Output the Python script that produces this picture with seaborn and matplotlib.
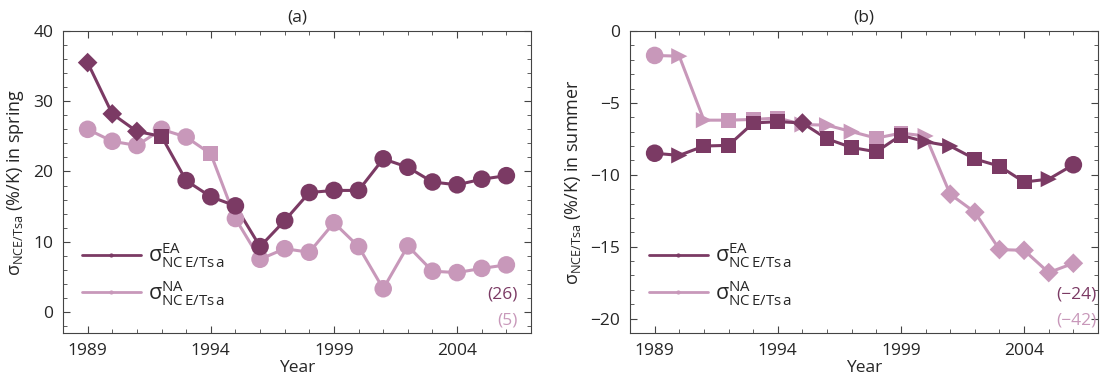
import numpy as np
import pandas as pd
import matplotlib
matplotlib.use("Agg")
import matplotlib.pyplot as plt
import seaborn as sns
from matplotlib.lines import Line2D
from matplotlib.ticker import MultipleLocator, FixedLocator

# values
years = list(range(1989, 2007))

spring_ea = [35.5, 28.2, 25.7, 25.0, 18.7, 16.4, 15.1, 9.3, 13.0, 17.0,
             17.3, 17.3, 21.8, 20.6, 18.5, 18.1, 18.9, 19.4]
spring_na = [26.0, 24.3, 23.7, 26.0, 24.9, 22.5, 13.3, 7.5, 9.0, 8.5,
             12.7, 9.3, 3.3, 9.4, 5.8, 5.6, 6.2, 6.7]
summer_ea = [-8.5, -8.65, -8.0, -7.95, -6.4, -6.3, -6.4, -7.5, -8.1, -8.4,
             -7.25, -7.7, -8.0, -8.9, -9.4, -10.5, -10.3, -9.3]
summer_na = [-1.7, -1.75, -6.2, -6.2, -6.15, -6.05, -6.5, -6.55, -7.0, -7.45,
             -7.1, -7.3, -11.35, -12.6, -15.2, -15.25, -16.8, -16.15]

spring_ea_mk = ['D', 'D', 'D', 's'] + ['o'] * 14
spring_na_mk = ['o'] * 5 + ['s'] + ['o'] * 12
summer_ea_mk = ['o', '>', 's', 's', 's', 's', 'D', 's', 's', 's',
                's', '>', '>', 's', 's', 's', '>', 'o']
summer_na_mk = ['o', '>', '>', 's', 's', 's', '>', '>', '>', 's',
                's', '>', 'D', 'D', 'D', 'D', 'D', 'D']

spring_yticks = [0, 10, 20, 30, 40]
summer_yticks = [0, -5, -10, -15, -20]
year_ticks = [1989, 1994, 1999, 2004]

spring_notes = ['(26)', '(5)']
summer_notes = ['(\u221224)', '(\u221242)']

dark = '#7b3a64'
light = '#c898ba'
marker_size = {'o': 160, 's': 115, 'D': 100, '>': 135}

sns.set_style('ticks')
plt.rcParams['font.family'] = ['Open Sans', 'DejaVu Sans']
plt.rcParams['mathtext.fontset'] = 'custom'
plt.rcParams['mathtext.rm'] = 'Open Sans'
plt.rcParams['mathtext.it'] = 'Open Sans:italic'
plt.rcParams['axes.edgecolor'] = '#444444'


def draw_series(ax, vals, marks, color):
    df = pd.DataFrame({'year': years, 'val': vals, 'mk': marks})
    sns.lineplot(data=df, x='year', y='val', color=color, lw=2.2, ax=ax)
    for m, grp in df.groupby('mk'):
        sns.scatterplot(data=grp, x='year', y='val', marker=m, color=color,
                        s=marker_size[m], edgecolor='none', ax=ax, zorder=3)


def style_axes(ax, title, ylabel, ylim, yticks, yminor, notes, note_x):
    ax.set_xlim(1988, 2007)
    ax.set_ylim(*ylim)
    ax.xaxis.set_major_locator(FixedLocator(year_ticks))
    ax.xaxis.set_minor_locator(MultipleLocator(1))
    ax.set_yticks(yticks)
    ax.yaxis.set_minor_locator(MultipleLocator(yminor))
    ax.tick_params(which='both', direction='in', top=True, right=True,
                   labelsize=12.5, color='#444444', pad=7)
    ax.tick_params(which='major', length=5)
    ax.tick_params(which='minor', length=3)
    ax.set_title(title, fontsize=12.5, pad=7)
    ax.set_xlabel('Year', fontsize=12.5, labelpad=1)
    ax.set_ylabel(ylabel, fontsize=13, labelpad=5)
    handles = [Line2D([], [], color=dark, lw=2, marker='.', markersize=4),
               Line2D([], [], color=light, lw=2, marker='.', markersize=4)]
    labels = [r'$\mathrm{σ}^{\rm EA}_{\rm NC\,E/Ts\,a}$',
              r'$\mathrm{σ}^{\rm NA}_{\rm NC\,E/Ts\,a}$']
    ax.legend(handles, labels, loc='lower left', bbox_to_anchor=(0.0, 0.02),
              frameon=False, fontsize=15.5, handlelength=2.7, labelspacing=0.35,
              handletextpad=0.35)
    ax.text(note_x, 0.126, notes[0], color=dark, fontsize=12.5,
            ha='right', va='center', transform=ax.transAxes)
    ax.text(note_x, 0.043, notes[1], color=light, fontsize=12.5,
            ha='right', va='center', transform=ax.transAxes)


fig = plt.figure(figsize=(11.04, 3.81), dpi=100)
ax1 = fig.add_axes([63 / 1104, 48 / 381, 468 / 1104, 302 / 381])
ax2 = fig.add_axes([630 / 1104, 48 / 381, 468 / 1104, 302 / 381])

draw_series(ax1, spring_na, spring_na_mk, light)
draw_series(ax1, spring_ea, spring_ea_mk, dark)
style_axes(ax1, '(a)', r'$\mathrm{σ}_{\rm NCE/Tsa}$ (%/K) in spring',
           (-3, 40), spring_yticks, 2, spring_notes, 0.972)

draw_series(ax2, summer_na, summer_na_mk, light)
draw_series(ax2, summer_ea, summer_ea_mk, dark)
style_axes(ax2, '(b)', r'$\mathrm{σ}_{\rm NCE/Tsa}$ (%/K) in summer',
           (-21, 0), summer_yticks, 1, summer_notes, 0.996)

fig.savefig('out.png', dpi=100)
